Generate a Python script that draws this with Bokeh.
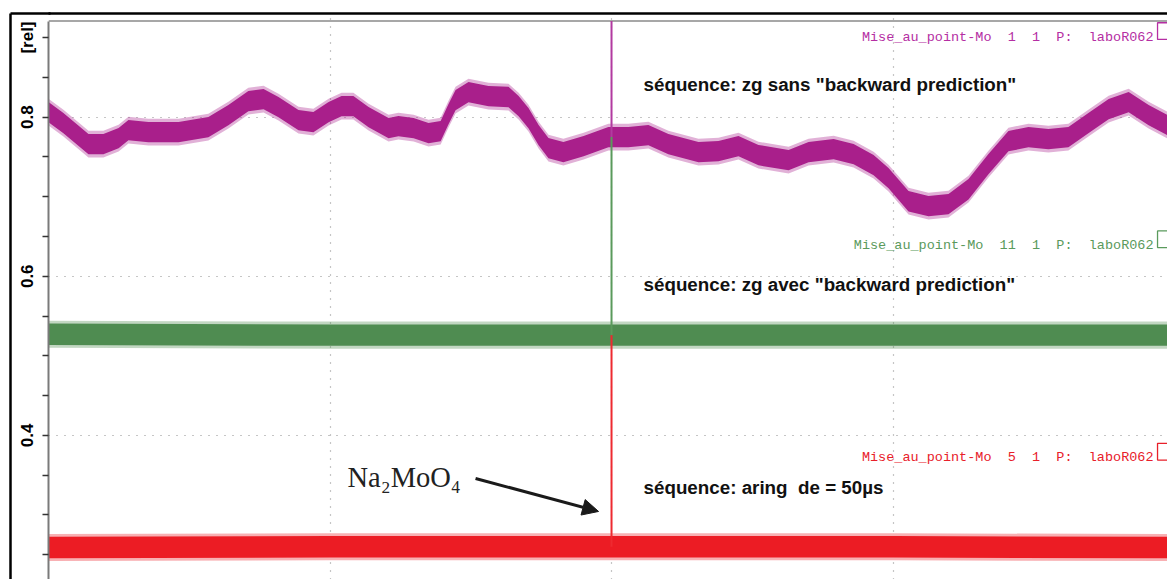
from bokeh.plotting import figure
from bokeh.models import FixedTicker, Label, Arrow, NormalHead, LinearAxis
from bokeh.embed import file_html
from bokeh.resources import INLINE

# ---------------- data ----------------
purple_x = [0.000, 0.053, 0.142, 0.195, 0.249, 0.284, 0.355, 0.462, 0.568, 0.639,
            0.710, 0.764, 0.817, 0.888, 0.941, 0.995, 1.041, 1.083, 1.137, 1.208,
            1.243, 1.297, 1.350, 1.393, 1.421, 1.446, 1.492, 1.563, 1.634, 1.670,
            1.705, 1.741, 1.776, 1.829, 1.901, 1.989, 2.060, 2.131, 2.202, 2.309,
            2.380, 2.451, 2.522, 2.629, 2.700, 2.789, 2.860, 2.931, 2.984, 3.055,
            3.126, 3.197, 3.268, 3.339, 3.410, 3.481, 3.552, 3.623, 3.694, 3.766,
            3.837, 3.908, 3.975]
purple_y = [0.8063, 0.7925, 0.7660, 0.7660, 0.7736, 0.7836, 0.7811, 0.7811, 0.7874, 0.8025,
            0.8201, 0.8226, 0.8126, 0.7962, 0.7937, 0.8063, 0.8138, 0.8138, 0.8000, 0.7862,
            0.7887, 0.7862, 0.7799, 0.7824, 0.8038, 0.8214, 0.8314, 0.8264, 0.8252, 0.8138,
            0.7987, 0.7774, 0.7610, 0.7560, 0.7635, 0.7748, 0.7748, 0.7774, 0.7660, 0.7560,
            0.7572, 0.7635, 0.7522, 0.7459, 0.7560, 0.7597, 0.7535, 0.7396, 0.7233, 0.6943,
            0.6881, 0.6906, 0.7094, 0.7409, 0.7698, 0.7748, 0.7723, 0.7748, 0.7925, 0.8101,
            0.8189, 0.8025, 0.7899]
green_x = [0.0, 1.0, 2.0, 3.0, 3.975]
green_y = [0.527, 0.526, 0.526, 0.526, 0.526]
red_x = [0.0, 1.0, 2.0, 3.0, 3.975]
red_y = [0.259, 0.260, 0.260, 0.260, 0.259]

y_ticks = [0.25, 0.3, 0.35, 0.4, 0.45, 0.5, 0.55, 0.6, 0.65, 0.7, 0.75, 0.8, 0.85, 0.9]
y_tick_labels = {0.4: "0.4", 0.6: "0.6", 0.8: "0.8", 0.9: "[rel]"}
grid_x = [1, 2, 3]
grid_y = [0.4, 0.6, 0.8]

cursor_x = 2.0
cursor_levels = [0.92075, 0.775, 0.526, 0.260]

trace_labels = ["Mise_au_point-Mo  1  1  P:  laboR062",
                "Mise_au_point-Mo  11  1  P:  laboR062",
                "Mise_au_point-Mo  5  1  P:  laboR062"]
trace_label_y = [0.9006, 0.639, 0.372]
seq_texts = ['séquence: zg sans "backward prediction"',
             'séquence: zg avec "backward prediction"',
             'séquence: aring  de = 50µs']
seq_y = [0.8415, 0.5899, 0.3346]
compound = "Na₂MoO₄"
arrow_start = (1.517, 0.3459)
arrow_end = (1.954, 0.3044)

# ---------------- styles ----------------
colors = ["#a91f8b", "#4f8c51", "#ec1c24"]
line_colors = ["#b23aa0", "#5a9a5c", "#ee2a30"]
text_colors = ["#b52ea3", "#5a9a5c", "#e8202a"]
half = [0.0128, 0.0135, 0.0135]
fringe = [0.0168, 0.0170, 0.0170]

X0, X1 = 0.0, 3.975
PLOT_TOP = 0.92075   # inner (gray) frame top
Y0, Y1 = 0.2189, 0.9302   # Y1 = level of the outer black frame line

p = figure(width=1167, height=579, x_range=(X0, X1), y_range=(Y0, Y1),
           output_backend="svg", toolbar_location=None,
           min_border_left=48, min_border_top=13, min_border_right=0, min_border_bottom=0)
p.outline_line_color = None
p.background_fill_color = "white"
p.border_fill_color = "white"

p.xaxis.visible = False
p.xgrid.ticker = FixedTicker(ticks=grid_x)
p.xgrid.bounds = (Y0, PLOT_TOP)
p.ygrid.ticker = FixedTicker(ticks=grid_y)
for g in (p.xgrid, p.ygrid):
    g.grid_line_color = "#8c8c8c"
    g.grid_line_dash = "1 7"
    g.grid_line_width = 1.2

ax = p.yaxis[0]
ax.bounds = (Y0, PLOT_TOP)
ax.ticker = FixedTicker(ticks=y_ticks, minor_ticks=[])
ax.major_label_overrides = {t: y_tick_labels.get(t, "") for t in y_ticks}
ax.major_label_orientation = "vertical"
ax.major_label_text_font = "Liberation Sans"
ax.major_label_text_font_style = "bold"
ax.major_label_text_font_size = "17px"
ax.major_label_text_color = "black"
ax.major_label_standoff = 5
ax.major_tick_out = 6
ax.major_tick_in = 0
ax.major_tick_line_color = "#333333"
ax.major_tick_line_width = 1.5
ax.axis_line_color = "#7a7a7a"
ax.axis_line_width = 2
ax.axis_label = "\u00a0"
ax.axis_label_standoff = 0
ax.axis_label_text_font_size = "2px"

# outer black frame: left side (axis line) + top-left corner (one long inward tick)
outer_left = LinearAxis(ticker=FixedTicker(ticks=[Y1], minor_ticks=[]),
                        major_label_overrides={Y1: ""},
                        major_label_text_font_size="0px",
                        major_tick_out=0, major_tick_in=40, minor_tick_out=0, minor_tick_in=0,
                        major_tick_line_color="black", major_tick_line_width=2.5,
                        major_label_standoff=0, axis_line_color="black", axis_line_width=2.5)
p.add_layout(outer_left, "left")

# outer black frame: top side
outer_top = LinearAxis(ticker=FixedTicker(ticks=[]), major_label_text_font_size="0px",
                       major_tick_out=0, major_tick_in=0, minor_tick_out=0, minor_tick_in=0,
                       major_label_standoff=0, axis_line_color="black", axis_line_width=2.5)
p.add_layout(outer_top, "above")

# inner gray frame top
p.segment(x0=[X0], y0=[PLOT_TOP], x1=[X1], y1=[PLOT_TOP], line_color="#8a8a8a", line_width=1.5)

# traces as noisy bands
series = [(purple_x, purple_y), (green_x, green_y), (red_x, red_y)]
for (xs, ys), c, h, f in zip(series, colors, half, fringe):
    p.varea(x=xs, y1=[v - f for v in ys], y2=[v + f for v in ys], fill_color=c, fill_alpha=0.35)
    p.varea(x=xs, y1=[v - h for v in ys], y2=[v + h for v in ys], fill_color=c, fill_alpha=1.0)

# cursor lines
for i in range(3):
    p.segment(x0=[cursor_x], y0=[cursor_levels[i]], x1=[cursor_x], y1=[cursor_levels[i + 1]],
              line_color=line_colors[i], line_width=2)

# trace labels and small boxes
for txt, ly, c in zip(trace_labels, trace_label_y, text_colors):
    p.add_layout(Label(x=3.9254, y=ly, text=txt.replace(" ", "\u00a0"), text_align="right",
                       text_baseline="middle", text_font="Liberation Mono",
                       text_font_size="13.5px", text_color=c))
p.quad(left=[3.9396] * 3, right=[4.2] * 3, top=[v + 0.018 for v in trace_label_y],
       bottom=[v - 0.003 for v in trace_label_y], fill_alpha=0, line_color=text_colors,
       line_width=1.3)

for txt, sy in zip(seq_texts, seq_y):
    p.add_layout(Label(x=2.1137, y=sy, text=txt.replace("  ", "\u00a0\u00a0"), text_align="left",
                       text_baseline="middle", text_font="Liberation Sans",
                       text_font_style="bold", text_font_size="18.8px", text_color="#111111"))

p.add_layout(Label(x=1.062, y=0.3472, text=compound, text_align="left",
                   text_baseline="alphabetic", text_font="Liberation Serif",
                   text_font_size="28.5px", text_color="#222222"))
p.add_layout(Arrow(x_start=arrow_start[0], y_start=arrow_start[1], x_end=arrow_end[0], y_end=arrow_end[1],
                   line_color="#1a1a1a", line_width=3,
                   end=NormalHead(size=16, fill_color="#1a1a1a", line_color="#1a1a1a", line_width=1)))

open("out.html", "w").write(file_html(p, INLINE))
